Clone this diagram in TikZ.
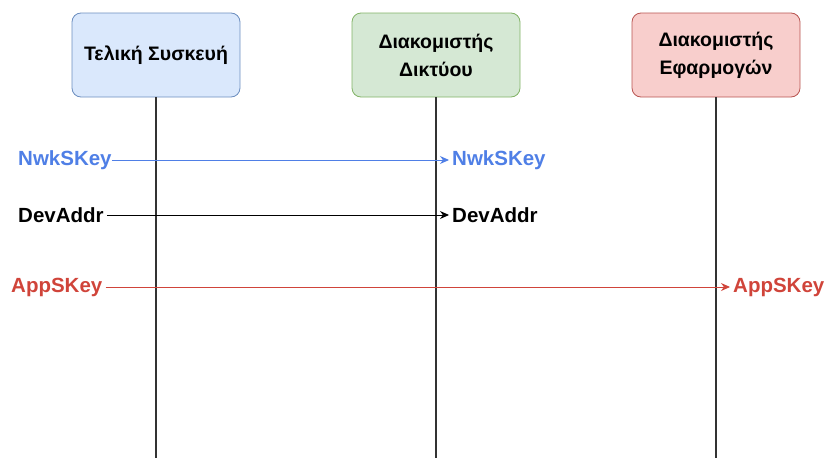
\documentclass[tikz,border=0pt]{standalone}
\usepackage{fontspec}
\setmainfont{Liberation Sans}
\usetikzlibrary{arrows.meta}
\definecolor{bluefill}{HTML}{DAE8FC}
\definecolor{bluedraw}{HTML}{6C8EBF}
\definecolor{greenfill}{HTML}{D5E8D4}
\definecolor{greendraw}{HTML}{82B366}
\definecolor{redfill}{HTML}{F8CECC}
\definecolor{reddraw}{HTML}{B85450}
\definecolor{keyblue}{HTML}{4F7FE6}
\definecolor{keyred}{HTML}{D0443A}
\definecolor{lifeline}{HTML}{333333}
\tikzset{
  actor/.style={draw, rounded corners=9pt, line width=0.8pt, minimum width=168pt,
    minimum height=84pt, align=center, font=\bfseries\fontsize{19.5}{28}\selectfont},
  keylabel/.style={font=\bfseries\fontsize{20.5}{24}\selectfont, inner sep=0pt},
  msg/.style={line width=0.9pt, -{Stealth[length=9pt,width=8pt]}},
  life/.style={draw=lifeline, line width=1.4pt}
}
\begin{document}
\begin{tikzpicture}[x=1pt,y=-1pt]
\useasboundingbox (0,0) rectangle (826,458);
% participants
\node[actor, fill=bluefill, draw=bluedraw] (dev) at (156,55) {Τελική Συσκευή};
\node[actor, fill=greenfill, draw=greendraw] (ns) at (436,55) {Διακομιστής\\Δικτύου};
\node[actor, fill=redfill, draw=reddraw] (as) at (716,55) {Διακομιστής\\Εφαρμογών};
% lifelines
\coordinate (devend) at (156,458);
\coordinate (nsend) at (436,458);
\coordinate (asend) at (716,458);
\draw[life] (dev.south) -- (devend);
\draw[life] (ns.south) -- (nsend);
\draw[life] (as.south) -- (asend);
% session keys
\node[keylabel, text=keyblue, anchor=west] (nwk1) at (18,160) {NwkSKey};
\node[keylabel, text=keyblue, anchor=west] (nwk2) at (452,160) {NwkSKey};
\node[keylabel, anchor=west] (dev1) at (18,215) {DevAddr};
\node[keylabel, anchor=west] (dev2) at (452,215) {DevAddr};
\node[keylabel, text=keyred, anchor=west] (app1) at (11,287) {AppSKey};
\node[keylabel, text=keyred, anchor=west] (app2) at (733,287) {AppSKey};
\draw[msg, draw=keyblue] (nwk1.east) -- ([xshift=-3pt]nwk2.west);
\draw[msg, draw=black] ([xshift=3pt]dev1.east) -- ([xshift=-3pt]dev2.west);
\draw[msg, draw=keyred] ([xshift=3pt]app1.east) -- ([xshift=-3pt]app2.west);
\end{tikzpicture}
\end{document}
